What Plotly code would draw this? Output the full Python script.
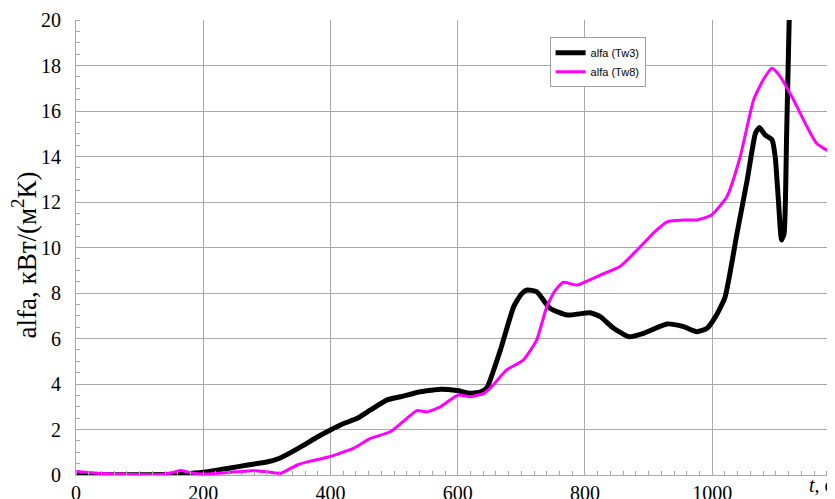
import plotly.graph_objects as go

# Tw3 (black)
t_tw3 = [0, 50, 100, 140, 170, 200, 240, 270, 300, 321, 350, 380, 400, 420, 442, 463, 489, 510,
         541, 562, 573, 599, 620, 636, 646, 667, 688, 700, 709, 724, 745, 772, 808, 824, 845, 869,
         892, 929, 955, 976, 992, 1005, 1020, 1039, 1055, 1068, 1074, 1083, 1094, 1099, 1104, 1109,
         1113, 1117, 1121, 1125]
a_tw3 = [0.02, 0.01, 0.01, 0.02, 0.05, 0.12, 0.3, 0.44, 0.57, 0.75, 1.18, 1.68, 1.98, 2.25, 2.49,
         2.86, 3.3, 3.44, 3.66, 3.74, 3.77, 3.71, 3.59, 3.66, 3.85, 5.49, 7.4, 7.95, 8.13, 8.06, 7.33,
         7.03, 7.13, 6.96, 6.45, 6.08, 6.23, 6.64, 6.52, 6.3, 6.45, 6.95, 7.8, 10.62, 12.97, 15.02,
         15.27, 14.95, 14.73, 13.99, 12.09, 10.33, 10.62, 15.02, 20.0, 24.0]

# Tw8 (magenta)
t_tw8 = [0, 20, 40, 80, 130, 148, 164, 180, 200, 243, 279, 300, 321, 348, 370, 395, 436, 463, 494,
         520, 536, 552, 573, 588, 601, 620, 641, 651, 677, 703, 724, 740, 753, 766, 787, 824, 855,
         882, 910, 929, 955, 976, 999, 1023, 1044, 1065, 1080, 1094, 1107, 1128, 1149, 1164, 1183, 1193]
a_tw8 = [0.15, 0.11, 0.07, 0.03, 0.02, 0.08, 0.2, 0.1, 0.04, 0.12, 0.19, 0.14, 0.07, 0.44, 0.62,
         0.78, 1.17, 1.61, 1.9, 2.49, 2.83, 2.78, 3.0, 3.3, 3.52, 3.44, 3.59, 3.81, 4.62, 5.05, 5.93,
         7.4, 8.1, 8.47, 8.35, 8.79, 9.16, 9.89, 10.7, 11.13, 11.21, 11.21, 11.43, 12.23, 13.99,
         16.48, 17.36, 17.88, 17.51, 16.48, 15.31, 14.58, 14.26, 14.43]

x_ticks = [0, 200, 400, 600, 800, 1000]
y_ticks = [0, 2, 4, 6, 8, 10, 12, 14, 16, 18, 20]

serif = "Liberation Serif, Times New Roman, serif"
grid = "#a8a8a8"

fig = go.Figure()
fig.add_trace(go.Scatter(x=t_tw3, y=a_tw3, mode="lines", name="alfa (Tw3)",
                         line=dict(color="black", width=5, shape="spline", smoothing=0.5)))
fig.add_trace(go.Scatter(x=t_tw8, y=a_tw8, mode="lines", name="alfa (Tw8)",
                         line=dict(color="#ff00ff", width=3, shape="spline", smoothing=0.5)))

# the page body has an 8px margin, so the figure is sized/placed to compensate
fig.update_layout(
    width=827, height=491,
    margin=dict(l=68, r=0, t=12, b=24, autoexpand=False),
    plot_bgcolor="white", paper_bgcolor="white",
    showlegend=True,
    legend=dict(x=0.624, y=0.962, xanchor="left", yanchor="top",
                bgcolor="white", bordercolor="#a0a0a0", borderwidth=1,
                font=dict(family="Liberation Sans, Arial, sans-serif", size=11, color="black"),
                itemwidth=30, tracegroupgap=0),
    xaxis=dict(range=[0, 1193], tickvals=x_ticks, ticktext=[str(v) for v in x_ticks],
               automargin=False,
               showgrid=True, gridcolor=grid, gridwidth=1,
               showline=True, linecolor=grid, linewidth=1,
               ticks="", zeroline=False, ticklabelstandoff=0,
               tickfont=dict(family=serif, size=20, color="black"),
               minor=dict(dtick=20, ticks="inside", ticklen=4, tickcolor=grid, showgrid=False)),
    yaxis=dict(range=[0, 20], tickvals=y_ticks, ticktext=[str(v) for v in y_ticks],
               automargin=False,
               showgrid=True, gridcolor=grid, gridwidth=1,
               showline=True, linecolor=grid, linewidth=1,
               ticks="", zeroline=False, ticklabelstandoff=10,
               tickfont=dict(family=serif, size=20, color="black"),
               minor=dict(dtick=0.5, ticks="inside", ticklen=4, tickcolor=grid, showgrid=False)),
    annotations=[
        dict(text="alfa, кВт/(м<sup>2</sup>К)", xref="paper", yref="paper",
             x=-0.068, y=0.4835, xanchor="center", yanchor="middle", textangle=-90,
             showarrow=False, font=dict(family=serif, size=27, color="black")),
        dict(text="<i>t</i>, c", xref="paper", yref="paper",
             x=0.963, y=-0.05, xanchor="left", yanchor="bottom",
             showarrow=False, font=dict(family=serif, size=20, color="black")),
    ],
)

fig.write_html("out.html")
